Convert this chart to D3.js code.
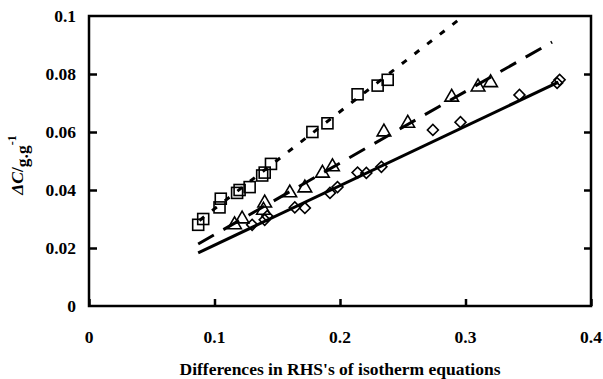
<!DOCTYPE html>
<html>
<head>
<meta charset="utf-8">
<script src="https://cdn.jsdelivr.net/npm/d3@7"></script>
<style>
  body { margin: 0; background: #fff; }
  text { font-family: "Liberation Serif", "DejaVu Serif", serif; font-weight: bold; }
</style>
</head>
<body>
<div id="box"></div>
<script>
// data
const squares = [[0.087,0.028],[0.091,0.030],[0.104,0.034],[0.105,0.037],[0.118,0.039],[0.120,0.040],
  [0.128,0.041],[0.138,0.045],[0.140,0.046],[0.145,0.049],[0.178,0.060],[0.190,0.063],
  [0.214,0.073],[0.230,0.076],[0.238,0.078]];
const triangles = [[0.116,0.028],[0.122,0.030],[0.139,0.033],[0.140,0.0355],[0.160,0.039],[0.172,0.0407],
  [0.186,0.0458],[0.194,0.048],[0.235,0.060],[0.254,0.063],[0.289,0.072],[0.310,0.0755],[0.320,0.077]];
const diamonds = [[0.130,0.028],[0.140,0.0297],[0.142,0.031],[0.164,0.034],[0.172,0.0338],[0.192,0.039],
  [0.198,0.041],[0.214,0.046],[0.221,0.0459],[0.233,0.048],[0.274,0.0607],[0.296,0.0634],
  [0.343,0.0728],[0.373,0.0769],[0.375,0.078]];

// fitted lines (start, end)
const lineSquares = [[0.088,0.0295],[0.297,0.0995]];
const lineTriangles = [[0.087,0.0214],[0.369,0.091]];
const lineDiamonds = [[0.087,0.0183],[0.374,0.0772]];

const xTicks = [0, 0.1, 0.2, 0.3, 0.4];
const yTicks = [0, 0.02, 0.04, 0.06, 0.08, 0.1];

const width = 603, height = 379;
const padLeft = 89, padRight = 12, padTop = 16, padBottom = 73;

const svg = d3.select('#box').append('svg')
  .attr('width', width).attr('height', height);

const x = d3.scaleLinear().domain([0, 0.4]).range([padLeft, width - padRight]);
const y = d3.scaleLinear().domain([0, 0.1]).range([height - padBottom, padTop]);

// lines
const line = d3.line().x(d => x(d[0])).y(d => y(d[1]));
svg.append('path').attr('d', line(lineDiamonds))
  .style('stroke', '#000').style('stroke-width', 3).style('fill', 'none');
svg.append('path').attr('d', line(lineTriangles))
  .style('stroke', '#000').style('stroke-width', 3).style('fill', 'none')
  .style('stroke-dasharray', '18,11');
svg.append('path').attr('d', line(lineSquares))
  .style('stroke', '#000').style('stroke-width', 3).style('fill', 'none')
  .style('stroke-dasharray', '6,10');

// markers
svg.selectAll('.sq').data(squares).join('rect')
  .attr('class', 'sq')
  .attr('x', d => x(d[0]) - 5.5).attr('y', d => y(d[1]) - 5.5)
  .attr('width', 11).attr('height', 11)
  .style('fill', 'none').style('stroke', '#000').style('stroke-width', 1.6);

const tri = d3.symbol().type(d3.symbolTriangle).size(80);
svg.selectAll('.tri').data(triangles).join('path')
  .attr('class', 'tri')
  .attr('d', tri)
  .attr('transform', d => `translate(${x(d[0])},${y(d[1])})`)
  .style('fill', 'none').style('stroke', '#000').style('stroke-width', 1.6);

const dia = d3.symbol().type(d3.symbolSquare).size(60);
svg.selectAll('.dia').data(diamonds).join('path')
  .attr('class', 'dia')
  .attr('d', dia)
  .attr('transform', d => `translate(${x(d[0])},${y(d[1])}) rotate(45)`)
  .style('fill', 'none').style('stroke', '#000').style('stroke-width', 1.6);

// frame
const gx = svg.append('g').attr('transform', `translate(0,${y(0)})`)
  .call(d3.axisTop(x).tickValues(xTicks).tickSize(7).tickFormat(''));
const gy = svg.append('g').attr('transform', `translate(${x(0)},0)`)
  .call(d3.axisRight(y).tickValues(yTicks.slice(1, 5)).tickSize(8).tickFormat(''));
const gr = svg.append('g').attr('transform', `translate(${x(0.4)},0)`)
  .call(d3.axisLeft(y).tickValues(yTicks.slice(1, 5)).tickSize(7).tickFormat(''));
[gx, gy, gr].forEach(g => {
  g.select('.domain').remove();
  g.selectAll('line').style('stroke', '#000').style('stroke-width', 2.5);
});
svg.append('rect')
  .attr('x', x(0)).attr('y', y(0.1))
  .attr('width', x(0.4) - x(0)).attr('height', y(0) - y(0.1))
  .style('fill', 'none').style('stroke', '#000').style('stroke-width', 2.5);

// tick labels
svg.selectAll('.xl').data(xTicks).join('text')
  .attr('class', 'xl')
  .attr('x', d => x(d)).attr('y', 343)
  .attr('text-anchor', 'middle')
  .style('font-size', '17.5px')
  .text(d => d3.format('')(d));

svg.selectAll('.yl').data(yTicks).join('text')
  .attr('class', 'yl')
  .attr('x', 76).attr('y', d => y(d) + 6)
  .attr('text-anchor', 'end')
  .style('font-size', '17.5px')
  .text(d => d3.format('')(d));

// axis titles
svg.append('text')
  .attr('x', x(0.2)).attr('y', 375)
  .attr('text-anchor', 'middle')
  .style('font-size', '17.5px')
  .text("Differences in RHS's of isotherm equations");

const yt = svg.append('text')
  .attr('transform', `translate(23,${y(0.05) + 4}) rotate(-90)`)
  .attr('text-anchor', 'middle')
  .style('font-size', '17.5px');
yt.append('tspan').style('font-style', 'italic').text('ΔC');
yt.append('tspan').text('/');
yt.append('tspan').attr('dy', 5).text('g.g');
yt.append('tspan').attr('dy', -12).style('font-size', '12px').text('-1');
</script>
</body>
</html>
